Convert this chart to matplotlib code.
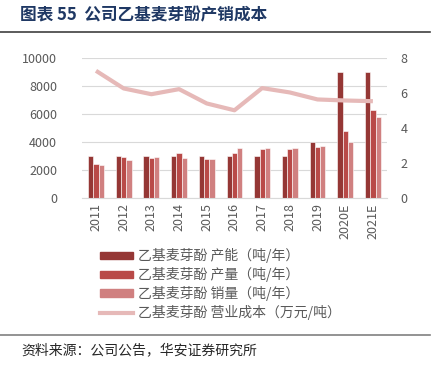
import numpy as np
import matplotlib.pyplot as plt
from matplotlib.lines import Line2D

plt.rcParams['font.family'] = ['Noto Sans CJK SC', 'DejaVu Sans']

years = ['2011', '2012', '2013', '2014', '2015', '2016', '2017', '2018', '2019', '2020E', '2021E']
capacity = [3000, 3000, 3000, 3000, 3000, 3000, 3000, 3000, 4000, 9000, 9000]
output = [2400, 2950, 2850, 3200, 2750, 3180, 3470, 3470, 3640, 4800, 6250]
sales = [2350, 2700, 2950, 2850, 2800, 3540, 3590, 3590, 3680, 4000, 5800]
cost = [7.27, 6.26, 5.93, 6.22, 5.40, 5.01, 6.28, 6.03, 5.63, 5.57, 5.53]

labels = ['乙基麦芽酚 产能（吨/年）', '乙基麦芽酚 产量（吨/年）',
          '乙基麦芽酚 销量（吨/年）', '乙基麦芽酚 营业成本（万元/吨）']
colors = ['#953735', '#B94A48', '#D08080', '#E6B9B8']

fig = plt.figure(figsize=(4.37, 3.65), dpi=100)
ax = fig.add_axes([0.188, 0.458, 0.697, 0.383])
ax2 = ax.twinx()

x = np.arange(len(years))
w = 0.19
ax.bar(x - w, capacity, w, color=colors[0], edgecolor='white', linewidth=0.4, zorder=2)
ax.bar(x, output, w, color=colors[1], edgecolor='white', linewidth=0.4, zorder=2)
ax.bar(x + w, sales, w, color=colors[2], edgecolor='white', linewidth=0.4, zorder=2)
ax2.plot(x, cost, color=colors[3], linewidth=3, solid_capstyle='butt')

ax.set_xlim(-0.5, len(years) - 0.5)
ax.set_ylim(0, 10000)
ax.set_yticks(np.arange(0, 10001, 2000))
ax2.set_ylim(0, 8)
ax2.set_yticks(np.arange(0, 9, 2))
ax.yaxis.grid(True, color='#D9D9D9', linewidth=0.8, zorder=0)
ax.set_axisbelow(True)

ax.set_xticks(x)
ax.set_xticklabels(years, rotation=90)
for a in (ax, ax2):
    for s in a.spines.values():
        s.set_visible(False)
    a.tick_params(length=0, labelsize=9, labelcolor='#595959')
ax.spines['bottom'].set_visible(True)
ax.spines['bottom'].set_color('#D9D9D9')
ax.tick_params(axis='y', pad=18)
ax2.tick_params(axis='y', pad=10)
ax.tick_params(axis='x', pad=4)

handles = [plt.Rectangle((0, 0), 1, 1, color=c) for c in colors[:3]]
handles.append(Line2D([0], [0], color=colors[3], linewidth=3))
fig.legend(handles, labels, loc='upper left', bbox_to_anchor=(0.215, 0.335),
           frameon=False, fontsize=10, labelcolor='#595959',
           handlelength=2.4, handleheight=0.45, handletextpad=0.4,
           labelspacing=0.28, borderaxespad=0)

fig.text(0.046, 0.958, '图表 55  公司乙基麦芽酚产销成本', fontsize=12,
         fontweight='bold', color='#1F3864', va='center')
fig.add_artist(Line2D([0, 0.985], [0.912, 0.912], color='#404040', linewidth=1.2))
fig.add_artist(Line2D([0, 0.985], [0.082, 0.082], color='#808080', linewidth=1.2))
fig.text(0.048, 0.04, '资料来源：公司公告，华安证券研究所', fontsize=10,
         color='#262626', va='center')

fig.savefig('out.png', dpi=100)
